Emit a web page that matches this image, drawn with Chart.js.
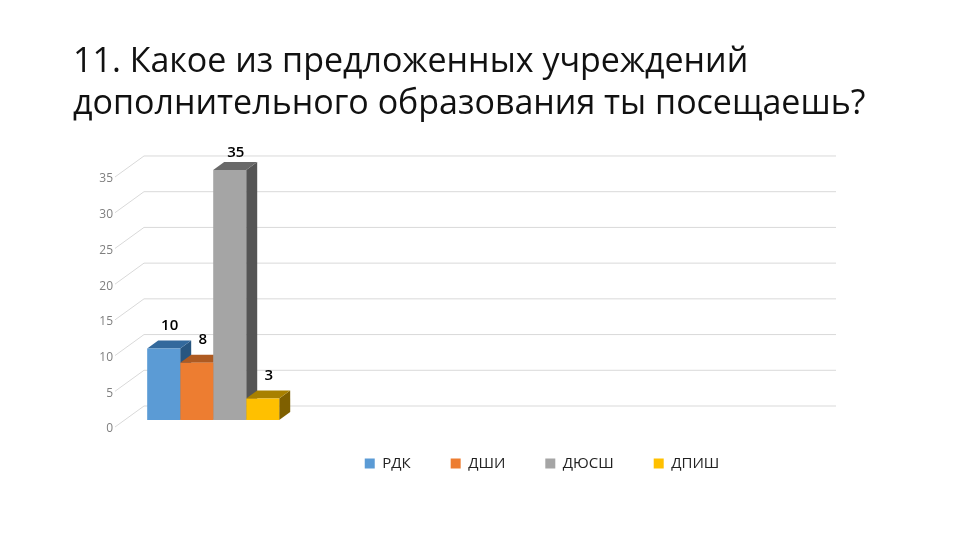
<!DOCTYPE html>
<html>
<head>
<meta charset="utf-8">
<script src="https://cdn.jsdelivr.net/npm/chart.js@4"></script>
<style>
html, body { margin: 0; padding: 0; background: #fff; }
#wrap { width: 960px; height: 540px; }
</style>
</head>
<body>
<div id="wrap"><canvas id="myChart" width="960" height="540"></canvas></div>
<script>
var titleLines = ['11. Какое из предложенных учреждений', 'дополнительного образования ты посещаешь?'];
// the source chart has 5 category slots, only the first one is filled
var categories = ['', '', '', '', ''];
var seriesNames = ['РДК', 'ДШИ', 'ДЮСШ', 'ДПИШ'];
var rdk = [10];
var dshi = [8];
var dyussh = [35];
var dpish = [3];
var yMax = 35;
var yStep = 5;

var frontColors = ['#5B9BD5', '#ED7D31', '#A5A5A5', '#FFC000'];
var topColors = ['#33699C', '#AE5A21', '#696969', '#A88000'];
var sideColors = ['#285680', '#8F4A1B', '#555555', '#7F6000'];

// 3d look
var barDx = 11, barDy = -8;       // depth of a bar
var wallDx = 29;                  // depth of the floor
var wallBack = -14, wallFront = 7; // back wall / front edge relative to the bar front

var fake3d = {
    id: 'fake3d',
    afterLayout: function (chart) {
        // legend is not centred on the page in the original
        chart.legend.left = 542 - 300;
        chart.legend.right = 542 + 300;
        chart.legend.top -= 4;
        // title runs wider than the plot, otherwise canvas squeezes the 2nd line
        chart.titleBlock.right = 940;
    },
    beforeDatasetsDraw: function (chart) {
        var ctx = chart.ctx, y = chart.scales.y, area = chart.chartArea;
        ctx.save();
        ctx.strokeStyle = '#D9D9D9';
        ctx.lineWidth = 1;
        y.ticks.forEach(function (t) {
            var py = y.getPixelForValue(t.value);
            ctx.beginPath();
            ctx.moveTo(area.left - wallDx, py + wallFront);
            ctx.lineTo(area.left, py + wallBack);
            ctx.lineTo(area.right, py + wallBack);
            ctx.stroke();
        });
        chart.data.datasets.forEach(function (ds, i) {
            var bar = chart.getDatasetMeta(i).data[0];
            var half = bar.width / 2;
            var l = bar.x - half, r = bar.x + half;
            ctx.fillStyle = sideColors[i];
            ctx.beginPath();
            ctx.moveTo(r, bar.y);
            ctx.lineTo(r + barDx, bar.y + barDy);
            ctx.lineTo(r + barDx, bar.base + barDy);
            ctx.lineTo(r, bar.base);
            ctx.closePath();
            ctx.fill();
            ctx.fillStyle = topColors[i];
            ctx.beginPath();
            ctx.moveTo(l, bar.y);
            ctx.lineTo(l + barDx, bar.y + barDy);
            ctx.lineTo(r + barDx, bar.y + barDy);
            ctx.lineTo(r, bar.y);
            ctx.closePath();
            ctx.fill();
        });
        ctx.restore();
    },
    afterDatasetsDraw: function (chart) {
        var ctx = chart.ctx;
        ctx.save();
        ctx.fillStyle = '#000';
        ctx.font = '600 15px "Open Sans"';
        ctx.textAlign = 'center';
        ctx.textBaseline = 'middle';
        chart.data.datasets.forEach(function (ds, i) {
            var bar = chart.getDatasetMeta(i).data[0];
            ctx.fillText(ds.data[0], bar.x + 6, Math.max(bar.y - 23, 153));
        });
        ctx.restore();
    }
};

var seriesValues = [rdk, dshi, dyussh, dpish];
var datasets = [];
for (var i = 0; i < seriesNames.length; i++) {
    datasets.push({
        label: seriesNames[i],
        data: seriesValues[i],
        backgroundColor: frontColors[i],
        barPercentage: 1,
        categoryPercentage: 0.954,
        clip: false
    });
}

var myChart = new Chart(document.getElementById('myChart').getContext('2d'), {
    type: 'bar',
    data: { labels: categories, datasets: datasets },
    plugins: [fake3d],
    options: {
        responsive: false,
        animation: false,
        layout: { padding: { left: 73, right: 124, top: 41, bottom: 55 } },
        plugins: {
            title: {
                display: true,
                text: titleLines,
                align: 'start',
                color: '#111',
                font: { family: '"Open Sans"', size: 34, weight: 'normal', lineHeight: 1.235 },
                padding: { top: 0, bottom: 45 }
            },
            legend: {
                position: 'bottom',
                labels: {
                    boxWidth: 10,
                    boxHeight: 10,
                    padding: 40,
                    color: '#222',
                    font: { family: '"Open Sans"', size: 15 }
                }
            },
            tooltip: { enabled: false }
        },
        scales: {
            x: { display: false },
            y: {
                min: 0,
                max: yMax,
                afterFit: function (s) { s.width = 71; },
                grid: { display: false, drawTicks: false },
                border: { display: false },
                ticks: {
                    stepSize: yStep,
                    padding: 31,
                    labelOffset: 9,
                    color: '#7F7F7F',
                    font: { family: '"Open Sans"', size: 12 }
                }
            }
        }
    }
});
</script>
</body>
</html>
